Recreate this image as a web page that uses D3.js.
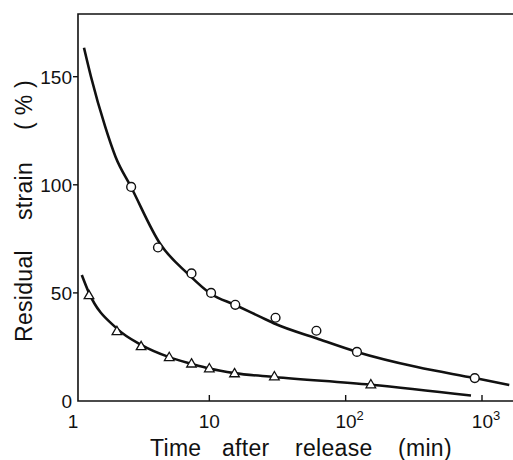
<!DOCTYPE html>
<html>
<head>
<meta charset="utf-8">
<script src="https://cdn.jsdelivr.net/npm/d3@7"></script>
<style>
  body { margin: 0; background: #fff; }
  text { font-family: "Liberation Sans", Arial, sans-serif; fill: #111; }
</style>
</head>
<body>
<script>
// measured points (open circles)
var circleTime = [2.67, 4.2, 7.4, 10.3, 15.5, 30.6, 61, 121, 885];
var circleStrain = [99, 71, 59, 50, 44.5, 38.5, 32.5, 22.7, 10.6];

// measured points (triangles)
var triangleTime = [1.31, 2.1, 3.16, 5.08, 7.4, 10, 15.3, 30, 153];
var triangleStrain = [48.6, 32, 25, 20, 17, 14.8, 12.5, 11.1, 7.4];

// fitted curves
var curveATime = [1.204, 1.355, 1.72, 2.05, 2.66, 4.38, 6.97, 10.28, 15.5, 23.7, 30.6, 61, 121, 334, 885, 1585];
var curveAStrain = [163.4, 150, 127, 113, 99.1, 72.5, 58.8, 49.5, 44.4, 38.9, 35.6, 29, 22.7, 15.7, 10.6, 7.4];
var curveBTime = [1.16, 1.31, 2.1, 3.16, 5.08, 7.4, 10, 15.3, 30, 153, 830];
var curveBStrain = [58.3, 50, 33.5, 26, 20.3, 17.2, 15, 12.9, 11.1, 7.5, 2.5];

// ticks
var xTickValues = [1, 10, 100, 1000];
var xTickLabels = [["1", ""], ["10", ""], ["10", "2"], ["10", "3"]];
var yTickValues = [0, 50, 100, 150];

// axis titles, one entry per word
var xTitleWords = ["Time", "after", "release", "(min)"];
var yTitleWords = ["Residual", "strain", "( % )"];

var width = 513, height = 460;

var svg = d3.select("body").append("svg")
    .attr("width", width)
    .attr("height", height);

var x = d3.scaleLog().domain([1, 1000]).range([73, 482]);
var y = d3.scaleLinear().domain([0, 179]).range([401, 14]);

var left = x(1.088), right = width;

// frame: left, bottom, top
svg.append("path")
    .attr("d", "M" + right + "," + y(179) + "H" + left + "V" + y(0) + "H" + right)
    .attr("stroke", "#111").attr("stroke-width", 1.6).attr("fill", "none");

// y ticks (outward) and labels
svg.append("g").selectAll("line")
    .data(yTickValues.filter(function (d) { return d > 0; }))
    .enter().append("line")
    .attr("x1", left - 5).attr("x2", left)
    .attr("y1", function (d) { return y(d); })
    .attr("y2", function (d) { return y(d); })
    .attr("stroke", "#111").attr("stroke-width", 1.4);
svg.append("g").selectAll("text")
    .data(yTickValues)
    .enter().append("text")
    .attr("x", left - 6)
    .attr("y", function (d) { return y(d); })
    .attr("dy", "0.36em")
    .attr("text-anchor", "end")
    .style("font-size", "19px")
    .text(function (d) { return d; });

// x ticks (inward) and labels
svg.append("g").selectAll("line")
    .data(xTickValues.filter(function (d) { return d > 1; }))
    .enter().append("line")
    .attr("x1", function (d) { return x(d); })
    .attr("x2", function (d) { return x(d); })
    .attr("y1", y(0)).attr("y2", y(0) - 6)
    .attr("stroke", "#111").attr("stroke-width", 1.4);
var xl = svg.append("g").selectAll("text")
    .data(xTickValues)
    .enter().append("text")
    .attr("x", function (d, i) { return x(d) + (xTickLabels[i][1] ? 4 : 0); })
    .attr("y", 428)
    .attr("text-anchor", "middle")
    .style("font-size", "19px");
xl.append("tspan").text(function (d, i) { return xTickLabels[i][0]; });
xl.append("tspan")
    .attr("dy", -8)
    .style("font-size", "13px")
    .text(function (d, i) { return xTickLabels[i][1]; });

// axis titles, words spread out like the original typesetting
var xWordStart = [150, 222, 295, 398];
svg.append("g").selectAll("text")
    .data(xTitleWords)
    .enter().append("text")
    .attr("x", function (d, i) { return xWordStart[i]; })
    .attr("y", 456)
    .style("font-size", "23px")
    .style("letter-spacing", "0.3px")
    .text(function (d) { return d; });
var yWordStart = [342, 220, 130];
svg.append("g").selectAll("text")
    .data(yTitleWords)
    .enter().append("text")
    .attr("transform", function (d, i) { return "translate(32," + yWordStart[i] + ") rotate(-90)"; })
    .style("font-size", "23px")
    .style("letter-spacing", "0.3px")
    .text(function (d) { return d; });

// fitted curves
var line = d3.line()
    .x(function (d) { return x(d[0]); })
    .y(function (d) { return y(d[1]); })
    .curve(d3.curveMonotoneX);
[[curveATime, curveAStrain], [curveBTime, curveBStrain]].forEach(function (c) {
    svg.append("path")
        .datum(d3.zip(c[0], c[1]))
        .attr("d", line)
        .attr("fill", "none")
        .attr("stroke", "#111")
        .attr("stroke-width", 2.6);
});

// circles
svg.append("g").selectAll("circle")
    .data(d3.zip(circleTime, circleStrain))
    .enter().append("circle")
    .attr("cx", function (d) { return x(d[0]); })
    .attr("cy", function (d) { return y(d[1]); })
    .attr("r", 4.4)
    .attr("fill", "#fff")
    .attr("stroke", "#111")
    .attr("stroke-width", 1.4);

// triangles
var tri = d3.symbol().type(d3.symbolTriangle).size(40);
svg.append("g").selectAll("path")
    .data(d3.zip(triangleTime, triangleStrain))
    .enter().append("path")
    .attr("d", tri)
    .attr("transform", function (d) { return "translate(" + x(d[0]) + "," + y(d[1]) + ")"; })
    .attr("fill", "#fff")
    .attr("stroke", "#111")
    .attr("stroke-width", 1.3);
</script>
</body>
</html>
